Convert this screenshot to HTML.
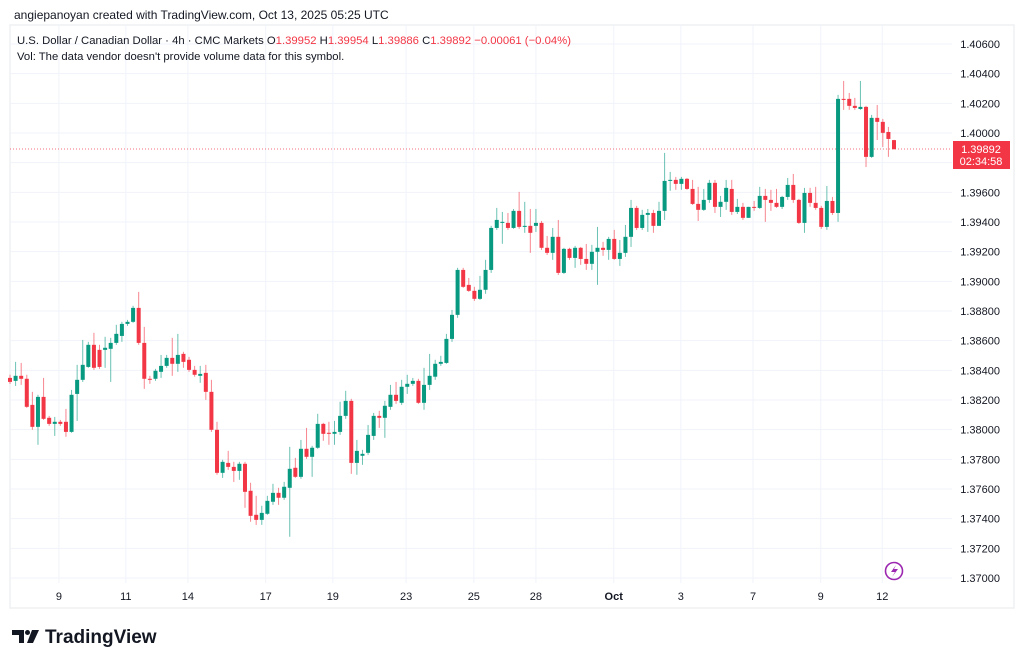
<!DOCTYPE html>
<html><head><meta charset="utf-8"><style>
html,body{margin:0;padding:0;background:#fff;width:1024px;height:665px;overflow:hidden}
svg{display:block}
text{font-family:"Liberation Sans",sans-serif}
</style></head><body>
<svg id="chart" width="1024" height="665" viewBox="0 0 1024 665" xmlns="http://www.w3.org/2000/svg">
<text x="14" y="19" font-size="12" fill="#131722">angiepanoyan created with TradingView.com, Oct 13, 2025 05:25 UTC</text>
<rect x="10" y="25" width="1004" height="583" fill="none" stroke="#eef0f3" stroke-width="1.5"/>
<g id="grid"></g>
<g id="candles"></g>
<g id="axes"></g>
<text x="17" y="44" font-size="11.3" fill="#131722">U.S. Dollar / Canadian Dollar · 4h · CMC Markets <tspan fill="#131722">O</tspan><tspan fill="#f23645">1.39952</tspan> <tspan fill="#131722">H</tspan><tspan fill="#f23645">1.39954</tspan> <tspan fill="#131722">L</tspan><tspan fill="#f23645">1.39886</tspan> <tspan fill="#131722">C</tspan><tspan fill="#f23645">1.39892 −0.00061 (−0.04%)</tspan></text>
<text x="17" y="60" font-size="11.3" fill="#131722">Vol: The data vendor doesn't provide volume data for this symbol.</text>
<g>
<rect x="953" y="141" width="57" height="28" fill="#f23645"/>
<text x="981" y="153" font-size="11" fill="#fff" text-anchor="middle">1.39892</text>
<text x="981" y="165" font-size="11" fill="#fff" text-anchor="middle">02:34:58</text>
</g>
<g>
<circle cx="894" cy="571" r="8.5" fill="none" stroke="#9c27b0" stroke-width="1.6"/>
<path d="M896 565 L891 572 L895 572 L892 577 L898 569 L894 569 Z" fill="#9c27b0"/>
</g>
<g>
<path d="M12 630 H24 V643 H19 V635 H12 Z" fill="#131722"/>
<circle cx="27.5" cy="632.5" r="2.5" fill="#131722"/>
<path d="M32 630 H39 L33 643 H27 Z" fill="#131722"/>
<text x="45" y="643" font-size="19" font-weight="bold" fill="#131722">TradingView</text>
</g>
</svg>
<script>
const opens=[1.38349,1.38329,1.38363,1.38343,1.38167,1.38019,1.38221,1.38080,1.38039,1.38053,1.38053,1.37985,1.38241,1.38336,1.38423,1.38572,1.38538,1.38538,1.38545,1.38585,1.38632,1.38713,1.38727,1.38821,1.38585,1.38343,1.38343,1.38390,1.38430,1.38484,1.38444,1.38511,1.38471,1.38403,1.38363,1.38383,1.38255,1.37999,1.37709,1.37776,1.37749,1.37722,1.37770,1.37588,1.37426,1.37392,1.37433,1.37514,1.37574,1.37541,1.37608,1.37743,1.37682,1.37871,1.37817,1.37878,1.38039,1.37979,1.37972,1.37985,1.38093,1.38194,1.37776,1.37824,1.37844,1.37958,1.38093,1.38080,1.38154,1.38235,1.38181,1.38289,1.38309,1.38329,1.38181,1.38302,1.38357,1.38444,1.38450,1.38612,1.38774,1.39077,1.38976,1.38936,1.38882,1.38943,1.39077,1.39360,1.39394,1.39394,1.39360,1.39475,1.39367,1.39374,1.39374,1.39394,1.39226,1.39192,1.39300,1.39057,1.39219,1.39158,1.39226,1.39151,1.39118,1.39199,1.39226,1.39212,1.39286,1.39151,1.39192,1.39300,1.39495,1.39360,1.39448,1.39461,1.39374,1.39475,1.39677,1.39684,1.39657,1.39691,1.39623,1.39522,1.39482,1.39549,1.39664,1.39502,1.39536,1.39623,1.39468,1.39502,1.39428,1.39502,1.39495,1.39576,1.39549,1.39529,1.39502,1.39569,1.39650,1.39549,1.39394,1.39596,1.39529,1.39495,1.39367,1.39542,1.39461,1.40230,1.40230,1.40183,1.40162,1.40176,1.39839,1.40102,1.40075,1.40007,1.39952];
const highs=[1.38370,1.38457,1.38450,1.38370,1.38255,1.38235,1.38349,1.38093,1.38086,1.38066,1.38140,1.38268,1.38437,1.38605,1.38592,1.38653,1.38572,1.38626,1.38619,1.38707,1.38727,1.38740,1.38835,1.38929,1.38693,1.38363,1.38410,1.38504,1.38504,1.38619,1.38646,1.38525,1.38491,1.38430,1.38430,1.38437,1.38336,1.38053,1.37797,1.37857,1.37783,1.37783,1.37783,1.37642,1.37554,1.37487,1.37554,1.37635,1.37608,1.37648,1.37884,1.37810,1.37931,1.38012,1.37891,1.38107,1.38046,1.38053,1.38059,1.38188,1.38262,1.38208,1.37931,1.37864,1.38032,1.38113,1.38127,1.38194,1.38302,1.38322,1.38336,1.38370,1.38349,1.38343,1.38417,1.38511,1.38471,1.38498,1.38646,1.38808,1.39091,1.39091,1.39023,1.38963,1.39037,1.39145,1.39374,1.39495,1.39468,1.39461,1.39488,1.39603,1.39536,1.39488,1.39488,1.39407,1.39306,1.39360,1.39414,1.39226,1.39226,1.39239,1.39232,1.39252,1.39246,1.39367,1.39266,1.39300,1.39347,1.39279,1.39380,1.39549,1.39509,1.39482,1.39488,1.39482,1.39536,1.39866,1.39738,1.39704,1.39704,1.39697,1.39684,1.39637,1.39623,1.39684,1.39684,1.39576,1.39684,1.39684,1.39556,1.39529,1.39502,1.39542,1.39637,1.39623,1.39617,1.39623,1.39576,1.39697,1.39724,1.39556,1.39630,1.39630,1.39637,1.39509,1.39643,1.39569,1.40257,1.40351,1.40270,1.40237,1.40351,1.40183,1.40122,1.40189,1.40095,1.40041,1.39954];
const lows=[1.38309,1.38295,1.38302,1.38147,1.37999,1.37898,1.38066,1.38026,1.37958,1.38026,1.37952,1.37979,1.38059,1.38322,1.38417,1.38403,1.38410,1.38417,1.38322,1.38572,1.38592,1.38700,1.38720,1.38572,1.38275,1.38309,1.38329,1.38349,1.38417,1.38363,1.38390,1.38417,1.38390,1.38357,1.38316,1.38201,1.37985,1.37696,1.37675,1.37729,1.37648,1.37662,1.37473,1.37379,1.37358,1.37358,1.37426,1.37493,1.37493,1.37527,1.37278,1.37675,1.37669,1.37803,1.37682,1.37871,1.37925,1.37898,1.37898,1.37965,1.38073,1.37702,1.37696,1.37763,1.37830,1.37931,1.38012,1.37945,1.38134,1.38174,1.38167,1.38241,1.38295,1.38174,1.38134,1.38268,1.38336,1.38430,1.38444,1.38592,1.38754,1.38956,1.38929,1.38868,1.38875,1.38916,1.39057,1.39347,1.39253,1.39347,1.39354,1.39354,1.39327,1.39192,1.39333,1.39212,1.39178,1.39145,1.39043,1.39050,1.39145,1.39091,1.39111,1.39077,1.39077,1.38976,1.39172,1.39145,1.39145,1.39104,1.39165,1.39232,1.39347,1.39347,1.39333,1.39327,1.39374,1.39414,1.39610,1.39617,1.39617,1.39617,1.39515,1.39407,1.39475,1.39529,1.39461,1.39434,1.39482,1.39448,1.39454,1.39414,1.39428,1.39475,1.39488,1.39401,1.39475,1.39495,1.39488,1.39549,1.39529,1.39387,1.39327,1.39502,1.39482,1.39354,1.39347,1.39448,1.39401,1.40156,1.40156,1.40156,1.40156,1.39771,1.39832,1.39953,1.39906,1.39839,1.39886];
const closes=[1.38322,1.38363,1.38343,1.38154,1.38019,1.38221,1.38073,1.38039,1.38053,1.38039,1.37985,1.38235,1.38336,1.38437,1.38572,1.38417,1.38423,1.38552,1.38585,1.38646,1.38713,1.38727,1.38821,1.38585,1.38343,1.38336,1.38397,1.38430,1.38484,1.38444,1.38504,1.38457,1.38403,1.38370,1.38376,1.38255,1.37999,1.37709,1.37783,1.37749,1.37722,1.37770,1.37581,1.37419,1.37392,1.37439,1.37520,1.37574,1.37541,1.37615,1.37736,1.37682,1.37871,1.37817,1.37878,1.38039,1.37972,1.37972,1.37985,1.38093,1.38194,1.37776,1.37857,1.37837,1.37965,1.38093,1.38080,1.38161,1.38235,1.38194,1.38289,1.38309,1.38329,1.38181,1.38302,1.38363,1.38444,1.38457,1.38612,1.38774,1.39077,1.38963,1.38936,1.38882,1.38943,1.39077,1.39360,1.39414,1.39401,1.39360,1.39475,1.39367,1.39374,1.39327,1.39394,1.39226,1.39192,1.39300,1.39057,1.39219,1.39158,1.39226,1.39151,1.39118,1.39199,1.39226,1.39212,1.39286,1.39151,1.39192,1.39300,1.39495,1.39360,1.39448,1.39461,1.39374,1.39475,1.39677,1.39684,1.39657,1.39691,1.39623,1.39522,1.39482,1.39549,1.39664,1.39502,1.39536,1.39630,1.39468,1.39502,1.39428,1.39502,1.39495,1.39576,1.39549,1.39529,1.39502,1.39569,1.39650,1.39549,1.39394,1.39596,1.39529,1.39495,1.39367,1.39542,1.39461,1.40230,1.40223,1.40183,1.40169,1.40176,1.39839,1.40102,1.40075,1.40001,1.39960,1.39892];
const priceTicks=[1.37000,1.37200,1.37400,1.37600,1.37800,1.38000,1.38200,1.38400,1.38600,1.38800,1.39000,1.39200,1.39400,1.39600,1.39800,1.40000,1.40200,1.40400,1.40600];
const dateLabels=["9","11","14","17","19","23","25","28","Oct","3","7","9","12"];
const dateIndex=[8.75,20.7,31.8,45.7,57.7,70.8,82.9,94,107.9,119.9,132.8,144.9,155.9];
const lastPrice=1.39892;

const NS="http://www.w3.org/2000/svg";
const plotL=10,plotR=952,plotT=25,plotB=583;
function yScale(p){return 44+(1.406-p)*14833.3;}
function xScale(i){return 10+i*(884/(closes.length-1));}
function mk(tag,attrs,parent){const e=document.createElementNS(NS,tag);for(const k in attrs)e.setAttribute(k,attrs[k]);parent.appendChild(e);return e;}
const grid=document.getElementById('grid'),cg=document.getElementById('candles'),ax=document.getElementById('axes');
priceTicks.forEach(p=>{
  const y=yScale(p);
  const l=mk('line',{x1:plotL,x2:plotR,y1:y,y2:y,stroke:'#f0f3fa','stroke-width':1},grid);
  
  
  const t=mk('text',{x:1000,y:y+4,'font-size':11,fill:'#131722','text-anchor':'end'},ax);
  
  
  t.textContent=p.toFixed(5);
});
dateLabels.forEach((d,k)=>{
  const x=xScale(dateIndex[k]);
  const l=mk('line',{x1:x,x2:x,y1:plotT,y2:plotB,stroke:'#f0f3fa','stroke-width':1},grid);
  
  
  const t=mk('text',{x:x,y:600,'font-size':11,fill:'#131722','text-anchor':'middle','font-weight':d==='Oct'?'bold':'normal'},ax);
  
  
  t.textContent=d;
});
const ly=yScale(lastPrice);
const pl=mk('line',{x1:plotL,x2:plotR,y1:ly,y2:ly,stroke:'#f23645','stroke-width':1,'stroke-dasharray':'1 2',opacity:0.7},grid);


closes.forEach((c,i)=>{
  const o=opens[i],h=highs[i],lo=lows[i];
  const up=c>=o,col=up?'#089981':'#f23645';
  const x=xScale(i);
  const w=mk('line',{x1:x,x2:x,y1:yScale(h),y2:yScale(lo),stroke:col,'stroke-width':1,opacity:0.6},cg);
  
  
  const top=yScale(Math.max(o,c)),bot=yScale(Math.min(o,c));
  const b=mk('rect',{x:x-2,y:top,width:4,height:Math.max(1,bot-top),fill:col},cg);
  
  
});
</script>
</body></html>
